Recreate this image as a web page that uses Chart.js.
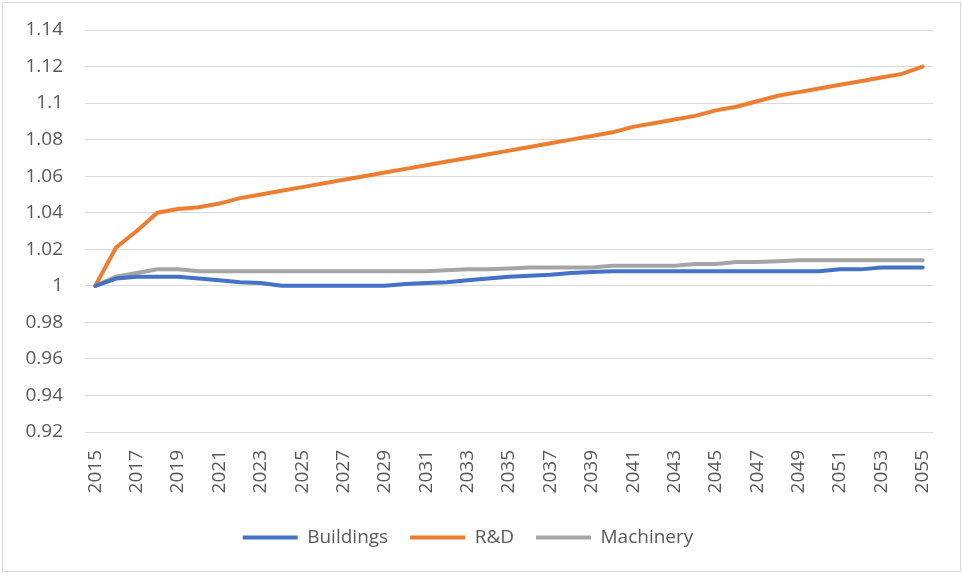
<!DOCTYPE html>
<html lang="en">
<head>
    <meta charset="UTF-8">
    <title>Buildings, R&amp;D, Machinery</title>
    <script src="https://cdn.jsdelivr.net/npm/chart.js"></script>
    <style>
        body {
            margin: 0;
            background-color: #ffffff;
        }

        #chartBox {
            position: absolute;
            left: 2px;
            top: 2px;
            width: 957px;
            height: 568px;
            border: 1px solid #d9d9d9;
        }
    </style>
</head>
<body>
    <div id="chartBox">
        <canvas id="indexChart"></canvas>
    </div>

    <script>
        // years 2015..2055
        const years = ['2015', '2016', '2017', '2018', '2019', '2020', '2021', '2022', '2023', '2024',
            '2025', '2026', '2027', '2028', '2029', '2030', '2031', '2032', '2033', '2034',
            '2035', '2036', '2037', '2038', '2039', '2040', '2041', '2042', '2043', '2044',
            '2045', '2046', '2047', '2048', '2049', '2050', '2051', '2052', '2053', '2054', '2055'];

        const buildings = [1.000, 1.004, 1.005, 1.005, 1.005, 1.004, 1.003, 1.002, 1.0015, 1.000,
            1.000, 1.000, 1.000, 1.000, 1.000, 1.001, 1.0015, 1.002, 1.003, 1.004,
            1.005, 1.0055, 1.006, 1.007, 1.0075, 1.008, 1.008, 1.008, 1.008, 1.008,
            1.008, 1.008, 1.008, 1.008, 1.008, 1.008, 1.009, 1.009, 1.010, 1.010, 1.010];

        const rnd = [1.000, 1.021, 1.030, 1.040, 1.042, 1.043, 1.045, 1.048, 1.050, 1.052,
            1.054, 1.056, 1.058, 1.060, 1.062, 1.064, 1.066, 1.068, 1.070, 1.072,
            1.074, 1.076, 1.078, 1.080, 1.082, 1.084, 1.087, 1.089, 1.091, 1.093,
            1.096, 1.098, 1.101, 1.104, 1.106, 1.108, 1.110, 1.112, 1.114, 1.116, 1.120];

        const machinery = [1.000, 1.005, 1.007, 1.009, 1.009, 1.008, 1.008, 1.008, 1.008, 1.008,
            1.008, 1.008, 1.008, 1.008, 1.008, 1.008, 1.008, 1.0085, 1.009, 1.009,
            1.0095, 1.010, 1.010, 1.010, 1.010, 1.011, 1.011, 1.011, 1.011, 1.012,
            1.012, 1.013, 1.013, 1.0135, 1.014, 1.014, 1.014, 1.014, 1.014, 1.014, 1.014];

        const yTicks = [0.92, 0.94, 0.96, 0.98, 1, 1.02, 1.04, 1.06, 1.08, 1.1, 1.12, 1.14];

        Chart.defaults.font.family = "'Open Sans', 'Liberation Sans', sans-serif";
        Chart.defaults.font.size = 19;
        Chart.defaults.color = '#595959';

        function series(label, data, color) {
            return {
                label: label,
                data: data,
                borderColor: color,
                backgroundColor: color,
                borderWidth: 4,
                borderCapStyle: 'round',
                pointRadius: 0,
                tension: 0
            };
        }

        new Chart(document.getElementById('indexChart'), {
            type: 'line',
            data: {
                labels: years,
                datasets: [
                    series('Buildings', buildings, '#4472c4'),
                    series('R&D', rnd, '#ed7d31'),
                    series('Machinery', machinery, '#a5a5a5')
                ]
            },
            options: {
                responsive: true,
                maintainAspectRatio: false,
                animation: false,
                layout: { padding: { top: 27, right: 27, bottom: 14, left: 0 } },
                plugins: {
                    tooltip: { enabled: false },
                    legend: {
                        position: 'bottom',
                        labels: {
                            boxWidth: 55,
                            boxHeight: 4,
                            padding: 22,
                            generateLabels: chart => Chart.defaults.plugins.legend.labels.generateLabels(chart)
                                .map(item => Object.assign(item, { lineWidth: 0 }))
                        }
                    }
                },
                scales: {
                    x: {
                        offset: true,
                        // invisible tick marks give the gap under the plot without padding the chart area
                        grid: { drawOnChartArea: false, tickLength: 18, tickColor: 'rgba(0,0,0,0)' },
                        border: { display: false },
                        ticks: {
                            autoSkip: false,
                            minRotation: 90,
                            maxRotation: 90,
                            padding: 0,
                            callback: (value, index) => index % 2 === 0 ? years[index] : ''
                        },
                        afterFit: scale => { scale.height = 74; }
                    },
                    y: {
                        min: 0.92,
                        max: 1.14,
                        afterBuildTicks: scale => { scale.ticks = yTicks.map(v => ({ value: v })); },
                        grid: { color: '#d9d9d9', lineWidth: 1, tickLength: 22, tickColor: 'rgba(0,0,0,0)' },
                        border: { display: false },
                        ticks: {
                            padding: 0,
                            callback: value => String(parseFloat(value.toFixed(2)))
                        },
                        afterFit: scale => { scale.width = 82; }
                    }
                }
            }
        });
    </script>
</body>
</html>
